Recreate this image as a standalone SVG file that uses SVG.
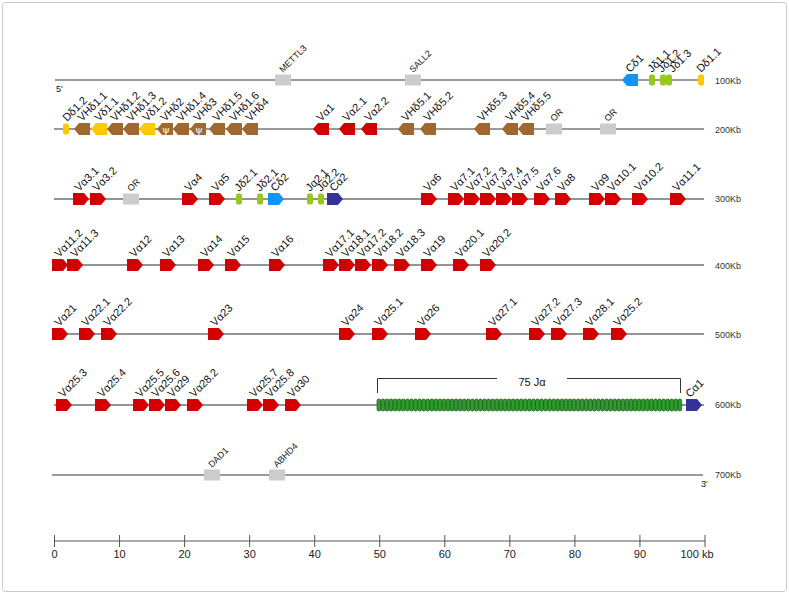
<svg xmlns="http://www.w3.org/2000/svg" xmlns:xlink="http://www.w3.org/1999/xlink" width="789" height="594" viewBox="0 0 789 594">
<style>
text{font-family:"Liberation Sans",Arial,sans-serif;fill:#111}
.lb{font-size:11px}
.sm{font-size:9px}
.kb{font-size:9px;fill:#333}
.ax{font-size:11px;fill:#222}
.red{fill:#d20000}
.brn{fill:#a0672f}
.yel{fill:#ffc800}
.blu{fill:#1294f2}
.grn{fill:#96c81e}
.dbl{fill:#333399}
.gry{fill:#cccccc}
.chrA{stroke:#9a9a9a;stroke-width:2;fill:none}
.chrB{stroke:#2a2a2a;stroke-width:1.2;fill:none}
.ja{fill:#2f9a2f;stroke:#165a16;stroke-width:0.7}
.psi{font-size:10px;fill:#fff;font-family:"DejaVu Serif",serif;text-anchor:middle}
</style>
<defs>
<path id="rp" d="M0,-6 H11 L16,0 L11,6 H0 Z"/>
<path id="lp" d="M16,-6 H5 L0,0 L5,6 H16 Z"/>
<rect id="sj" x="0" y="-5.5" width="6" height="11" rx="2"/>
<rect id="bx" x="0" y="-5.5" width="16" height="11"/>
<rect id="js" x="0" y="-6" width="3.8" height="12" rx="1.8"/>
</defs>
<rect x="2.5" y="2.5" width="784" height="589" rx="3" fill="#fff" stroke="#c8c8c8"/>

<g id="connectors">
<line class="chrA" x1="55" y1="80" x2="704" y2="80"/>
<line class="chrA" x1="54" y1="129" x2="704" y2="129"/>
<line class="chrB" x1="54" y1="199" x2="704" y2="199"/>
<line class="chrB" x1="52" y1="265" x2="704" y2="265"/>
<line class="chrB" x1="52" y1="334" x2="704" y2="334"/>
<line class="chrB" x1="54" y1="405" x2="704" y2="405"/>
<line class="chrA" x1="52" y1="475" x2="703" y2="475"/>
</g>
<g id="rowlabels">
<text class="kb" x="715" y="84">100Kb</text>
<text class="kb" x="715" y="133">200Kb</text>
<text class="kb" x="715" y="202">300Kb</text>
<text class="kb" x="715" y="269">400Kb</text>
<text class="kb" x="715" y="338">500Kb</text>
<text class="kb" x="715" y="408">600Kb</text>
<text class="kb" x="715" y="478">700Kb</text>
<text class="sm" x="56" y="92">5'</text>
<text class="sm" x="701" y="487">3'</text>
</g>

<!-- Row 1 -->
<g id="METTL3"><use href="#bx" x="275" y="80" class="gry"/><text class="sm" transform="translate(283,73) rotate(-45)">METTL3</text></g>
<g id="SALL2"><use href="#bx" x="405" y="80" class="gry"/><text class="sm" transform="translate(413,73) rotate(-45)">SALL2</text></g>
<g id="Cd1"><use href="#lp" x="622" y="80" class="blu"/><text class="lb" transform="translate(630,73) rotate(-45)">Cδ1</text></g>
<g id="Jd1_1"><use href="#sj" x="649" y="80" class="grn"/><text class="lb" transform="translate(652,73) rotate(-45)">Jδ1.1</text></g>
<g id="Jd1_2"><use href="#sj" x="660" y="80" class="grn"/><text class="lb" transform="translate(662,73) rotate(-45)">Jδ1.2</text></g>
<g id="Jd1_3"><use href="#sj" x="666" y="80" class="grn"/><text class="lb" transform="translate(673,73) rotate(-45)">Jδ1.3</text></g>
<g id="Dd1_1"><use href="#sj" x="698" y="80" class="yel"/><text class="lb" transform="translate(701,73) rotate(-45)">Dδ1.1</text></g>

<!-- Row 2 -->
<g id="Dd1_2"><use href="#sj" x="63" y="129" class="yel"/><text class="lb" transform="translate(67,122) rotate(-45)">Dδ1.2</text></g>
<g id="VHd1_1"><use href="#lp" x="74" y="129" class="brn"/><text class="lb" transform="translate(82,122) rotate(-45)">VHδ1.1</text></g>
<g id="Vd1_1"><use href="#lp" x="91" y="129" class="yel"/><text class="lb" transform="translate(99,122) rotate(-45)">Vδ1.1</text></g>
<g id="VHd1_2"><use href="#lp" x="107" y="129" class="brn"/><text class="lb" transform="translate(115,122) rotate(-45)">VHδ1.2</text></g>
<g id="VHd1_3"><use href="#lp" x="123" y="129" class="brn"/><text class="lb" transform="translate(131,122) rotate(-45)">VHδ1.3</text></g>
<g id="Vd1_2"><use href="#lp" x="139" y="129" class="yel"/><text class="lb" transform="translate(147,122) rotate(-45)">Vδ1.2</text></g>
<g id="VHd2"><use href="#lp" x="157" y="129" class="brn"/><text class="psi" x="166" y="133">ψ</text><text class="lb" transform="translate(165,122) rotate(-45)">VHδ2</text></g>
<g id="VHd1_4"><use href="#lp" x="173" y="129" class="brn"/><text class="lb" transform="translate(181,122) rotate(-45)">VHδ1.4</text></g>
<g id="VHd3"><use href="#lp" x="190" y="129" class="brn"/><text class="psi" x="199" y="133">ψ</text><text class="lb" transform="translate(198,122) rotate(-45)">VHδ3</text></g>
<g id="VHd1_5"><use href="#lp" x="209" y="129" class="brn"/><text class="lb" transform="translate(217,122) rotate(-45)">VHδ1.5</text></g>
<g id="VHd1_6"><use href="#lp" x="226" y="129" class="brn"/><text class="lb" transform="translate(234,122) rotate(-45)">VHδ1.6</text></g>
<g id="VHd4"><use href="#lp" x="242" y="129" class="brn"/><text class="lb" transform="translate(250,122) rotate(-45)">VHδ4</text></g>
<g id="Va1"><use href="#lp" x="313" y="129" class="red"/><text class="lb" transform="translate(321,122) rotate(-45)">Vα1</text></g>
<g id="Va2_1"><use href="#lp" x="339" y="129" class="red"/><text class="lb" transform="translate(347,122) rotate(-45)">Vα2.1</text></g>
<g id="Va2_2"><use href="#lp" x="361" y="129" class="red"/><text class="lb" transform="translate(369,122) rotate(-45)">Vα2.2</text></g>
<g id="VHd5_1"><use href="#lp" x="398" y="129" class="brn"/><text class="lb" transform="translate(406,122) rotate(-45)">VHδ5.1</text></g>
<g id="VHd5_2"><use href="#lp" x="420" y="129" class="brn"/><text class="lb" transform="translate(428,122) rotate(-45)">VHδ5.2</text></g>
<g id="VHd5_3"><use href="#lp" x="474" y="129" class="brn"/><text class="lb" transform="translate(482,122) rotate(-45)">VHδ5.3</text></g>
<g id="VHd5_4"><use href="#lp" x="502" y="129" class="brn"/><text class="lb" transform="translate(510,122) rotate(-45)">VHδ5.4</text></g>
<g id="VHd5_5"><use href="#lp" x="518" y="129" class="brn"/><text class="lb" transform="translate(526,122) rotate(-45)">VHδ5.5</text></g>
<g id="OR1"><use href="#bx" x="546" y="129" class="gry"/><text class="sm" transform="translate(554,122) rotate(-45)">OR</text></g>
<g id="OR2"><use href="#bx" x="600" y="129" class="gry"/><text class="sm" transform="translate(608,122) rotate(-45)">OR</text></g>

<!-- Row 3 -->
<g id="Va3_1"><use href="#rp" x="73" y="199" class="red"/><text class="lb" transform="translate(79,192) rotate(-45)">Vα3.1</text></g>
<g id="Va3_2"><use href="#rp" x="90" y="199" class="red"/><text class="lb" transform="translate(97,192) rotate(-45)">Vα3.2</text></g>
<g id="OR3"><use href="#bx" x="123" y="199" class="gry"/><text class="sm" transform="translate(131,192) rotate(-45)">OR</text></g>
<g id="Va4"><use href="#rp" x="182" y="199" class="red"/><text class="lb" transform="translate(189,192) rotate(-45)">Vα4</text></g>
<g id="Va5"><use href="#rp" x="209" y="199" class="red"/><text class="lb" transform="translate(216,192) rotate(-45)">Vα5</text></g>
<g id="Jd2_1a"><use href="#sj" x="236" y="199" class="grn"/><text class="lb" transform="translate(239,192) rotate(-45)">Jδ2.1</text></g>
<g id="Jd2_1b"><use href="#sj" x="257" y="199" class="grn"/><text class="lb" transform="translate(260,192) rotate(-45)">Jδ2.1</text></g>
<g id="Cd2"><use href="#rp" x="268" y="199" class="blu"/><text class="lb" transform="translate(275,192) rotate(-45)">Cδ2</text></g>
<g id="Ja2_1"><use href="#sj" x="307" y="199" class="grn"/><text class="lb" transform="translate(310,192) rotate(-45)">Jα2.1</text></g>
<g id="Ja2_2"><use href="#sj" x="318" y="199" class="grn"/><text class="lb" transform="translate(321,192) rotate(-45)">Jα2.2</text></g>
<g id="Ca2"><use href="#rp" x="327" y="199" class="dbl"/><text class="lb" transform="translate(334,192) rotate(-45)">Cα2</text></g>
<g id="Va6"><use href="#rp" x="421" y="199" class="red"/><text class="lb" transform="translate(428,192) rotate(-45)">Vα6</text></g>
<g id="Va7_1"><use href="#rp" x="448" y="199" class="red"/><text class="lb" transform="translate(455,192) rotate(-45)">Vα7.1</text></g>
<g id="Va7_2"><use href="#rp" x="464" y="199" class="red"/><text class="lb" transform="translate(471,192) rotate(-45)">Vα7.2</text></g>
<g id="Va7_3"><use href="#rp" x="480" y="199" class="red"/><text class="lb" transform="translate(487,192) rotate(-45)">Vα7.3</text></g>
<g id="Va7_4"><use href="#rp" x="496" y="199" class="red"/><text class="lb" transform="translate(503,192) rotate(-45)">Vα7.4</text></g>
<g id="Va7_5"><use href="#rp" x="512" y="199" class="red"/><text class="lb" transform="translate(519,192) rotate(-45)">Vα7.5</text></g>
<g id="Va7_6"><use href="#rp" x="534" y="199" class="red"/><text class="lb" transform="translate(541,192) rotate(-45)">Vα7.6</text></g>
<g id="Va8"><use href="#rp" x="555" y="199" class="red"/><text class="lb" transform="translate(562,192) rotate(-45)">Vα8</text></g>
<g id="Va9"><use href="#rp" x="589" y="199" class="red"/><text class="lb" transform="translate(596,192) rotate(-45)">Vα9</text></g>
<g id="Va10_1"><use href="#rp" x="605" y="199" class="red"/><text class="lb" transform="translate(612,192) rotate(-45)">Vα10.1</text></g>
<g id="Va10_2"><use href="#rp" x="632" y="199" class="red"/><text class="lb" transform="translate(639,192) rotate(-45)">Vα10.2</text></g>
<g id="Va11_1"><use href="#rp" x="670" y="199" class="red"/><text class="lb" transform="translate(677,192) rotate(-45)">Vα11.1</text></g>

<!-- Row 4 -->
<g id="Va11_2"><use href="#rp" x="52" y="265" class="red"/><text class="lb" transform="translate(59,258) rotate(-45)">Vα11.2</text></g>
<g id="Va11_3"><use href="#rp" x="67" y="265" class="red"/><text class="lb" transform="translate(75,258) rotate(-45)">Vα11.3</text></g>
<g id="Va12"><use href="#rp" x="127" y="265" class="red"/><text class="lb" transform="translate(134,258) rotate(-45)">Vα12</text></g>
<g id="Va13"><use href="#rp" x="160" y="265" class="red"/><text class="lb" transform="translate(167,258) rotate(-45)">Vα13</text></g>
<g id="Va14"><use href="#rp" x="198" y="265" class="red"/><text class="lb" transform="translate(205,258) rotate(-45)">Vα14</text></g>
<g id="Va15"><use href="#rp" x="225" y="265" class="red"/><text class="lb" transform="translate(232,258) rotate(-45)">Vα15</text></g>
<g id="Va16"><use href="#rp" x="269" y="265" class="red"/><text class="lb" transform="translate(276,258) rotate(-45)">Vα16</text></g>
<g id="Va17_1"><use href="#rp" x="323" y="265" class="red"/><text class="lb" transform="translate(330,258) rotate(-45)">Vα17.1</text></g>
<g id="Va18_1"><use href="#rp" x="339" y="265" class="red"/><text class="lb" transform="translate(346,258) rotate(-45)">Vα18.1</text></g>
<g id="Va17_2"><use href="#rp" x="355" y="265" class="red"/><text class="lb" transform="translate(362,258) rotate(-45)">Vα17.2</text></g>
<g id="Va18_2"><use href="#rp" x="372" y="265" class="red"/><text class="lb" transform="translate(379,258) rotate(-45)">Vα18.2</text></g>
<g id="Va18_3"><use href="#rp" x="394" y="265" class="red"/><text class="lb" transform="translate(401,258) rotate(-45)">Vα18.3</text></g>
<g id="Va19"><use href="#rp" x="421" y="265" class="red"/><text class="lb" transform="translate(428,258) rotate(-45)">Vα19</text></g>
<g id="Va20_1"><use href="#rp" x="453" y="265" class="red"/><text class="lb" transform="translate(460,258) rotate(-45)">Vα20.1</text></g>
<g id="Va20_2"><use href="#rp" x="480" y="265" class="red"/><text class="lb" transform="translate(487,258) rotate(-45)">Vα20.2</text></g>

<!-- Row 5 -->
<g id="Va21"><use href="#rp" x="52" y="334" class="red"/><text class="lb" transform="translate(59,327) rotate(-45)">Vα21</text></g>
<g id="Va22_1"><use href="#rp" x="79" y="334" class="red"/><text class="lb" transform="translate(86,327) rotate(-45)">Vα22.1</text></g>
<g id="Va22_2"><use href="#rp" x="101" y="334" class="red"/><text class="lb" transform="translate(108,327) rotate(-45)">Vα22.2</text></g>
<g id="Va23"><use href="#rp" x="208" y="334" class="red"/><text class="lb" transform="translate(215,327) rotate(-45)">Vα23</text></g>
<g id="Va24"><use href="#rp" x="339" y="334" class="red"/><text class="lb" transform="translate(346,327) rotate(-45)">Vα24</text></g>
<g id="Va25_1"><use href="#rp" x="372" y="334" class="red"/><text class="lb" transform="translate(379,327) rotate(-45)">Vα25.1</text></g>
<g id="Va26"><use href="#rp" x="415" y="334" class="red"/><text class="lb" transform="translate(422,327) rotate(-45)">Vα26</text></g>
<g id="Va27_1"><use href="#rp" x="486" y="334" class="red"/><text class="lb" transform="translate(493,327) rotate(-45)">Vα27.1</text></g>
<g id="Va27_2"><use href="#rp" x="529" y="334" class="red"/><text class="lb" transform="translate(536,327) rotate(-45)">Vα27.2</text></g>
<g id="Va27_3"><use href="#rp" x="551" y="334" class="red"/><text class="lb" transform="translate(558,327) rotate(-45)">Vα27.3</text></g>
<g id="Va28_1"><use href="#rp" x="583" y="334" class="red"/><text class="lb" transform="translate(590,327) rotate(-45)">Vα28.1</text></g>
<g id="Va25_2"><use href="#rp" x="611" y="334" class="red"/><text class="lb" transform="translate(618,327) rotate(-45)">Vα25.2</text></g>

<!-- Row 6 -->
<g id="Va25_3"><use href="#rp" x="56" y="405" class="red"/><text class="lb" transform="translate(63,398) rotate(-45)">Vα25.3</text></g>
<g id="Va25_4"><use href="#rp" x="95" y="405" class="red"/><text class="lb" transform="translate(102,398) rotate(-45)">Vα25.4</text></g>
<g id="Va25_5"><use href="#rp" x="133" y="405" class="red"/><text class="lb" transform="translate(140,398) rotate(-45)">Vα25.5</text></g>
<g id="Va25_6"><use href="#rp" x="149" y="405" class="red"/><text class="lb" transform="translate(156,398) rotate(-45)">Vα25.6</text></g>
<g id="Va29"><use href="#rp" x="165" y="405" class="red"/><text class="lb" transform="translate(172,398) rotate(-45)">Vα29</text></g>
<g id="Va28_2"><use href="#rp" x="187" y="405" class="red"/><text class="lb" transform="translate(194,398) rotate(-45)">Vα28.2</text></g>
<g id="Va25_7"><use href="#rp" x="247" y="405" class="red"/><text class="lb" transform="translate(254,398) rotate(-45)">Vα25.7</text></g>
<g id="Va25_8"><use href="#rp" x="263" y="405" class="red"/><text class="lb" transform="translate(270,398) rotate(-45)">Vα25.8</text></g>
<g id="Va30"><use href="#rp" x="285" y="405" class="red"/><text class="lb" transform="translate(292,398) rotate(-45)">Vα30</text></g>
<g id="Ja_cluster">
<path d="M377.5,393 V378.5 H497 M567,378.5 H680.5 V393" fill="none" stroke="#333" stroke-width="1"/>
<text class="lb" x="532" y="386" text-anchor="middle">75 Jα</text>
<g class="ja">
<use href="#js" x="377" y="405"/><use href="#js" x="381.07" y="405"/><use href="#js" x="385.13" y="405"/><use href="#js" x="389.2" y="405"/><use href="#js" x="393.27" y="405"/>
<use href="#js" x="397.33" y="405"/><use href="#js" x="401.4" y="405"/><use href="#js" x="405.47" y="405"/><use href="#js" x="409.53" y="405"/><use href="#js" x="413.6" y="405"/>
<use href="#js" x="417.67" y="405"/><use href="#js" x="421.73" y="405"/><use href="#js" x="425.8" y="405"/><use href="#js" x="429.87" y="405"/><use href="#js" x="433.93" y="405"/>
<use href="#js" x="438" y="405"/><use href="#js" x="442.07" y="405"/><use href="#js" x="446.13" y="405"/><use href="#js" x="450.2" y="405"/><use href="#js" x="454.27" y="405"/>
<use href="#js" x="458.33" y="405"/><use href="#js" x="462.4" y="405"/><use href="#js" x="466.47" y="405"/><use href="#js" x="470.53" y="405"/><use href="#js" x="474.6" y="405"/>
<use href="#js" x="478.67" y="405"/><use href="#js" x="482.73" y="405"/><use href="#js" x="486.8" y="405"/><use href="#js" x="490.87" y="405"/><use href="#js" x="494.93" y="405"/>
<use href="#js" x="499" y="405"/><use href="#js" x="503.07" y="405"/><use href="#js" x="507.13" y="405"/><use href="#js" x="511.2" y="405"/><use href="#js" x="515.27" y="405"/>
<use href="#js" x="519.33" y="405"/><use href="#js" x="523.4" y="405"/><use href="#js" x="527.47" y="405"/><use href="#js" x="531.53" y="405"/><use href="#js" x="535.6" y="405"/>
<use href="#js" x="539.67" y="405"/><use href="#js" x="543.73" y="405"/><use href="#js" x="547.8" y="405"/><use href="#js" x="551.87" y="405"/><use href="#js" x="555.93" y="405"/>
<use href="#js" x="560" y="405"/><use href="#js" x="564.07" y="405"/><use href="#js" x="568.13" y="405"/><use href="#js" x="572.2" y="405"/><use href="#js" x="576.27" y="405"/>
<use href="#js" x="580.33" y="405"/><use href="#js" x="584.4" y="405"/><use href="#js" x="588.47" y="405"/><use href="#js" x="592.53" y="405"/><use href="#js" x="596.6" y="405"/>
<use href="#js" x="600.67" y="405"/><use href="#js" x="604.73" y="405"/><use href="#js" x="608.8" y="405"/><use href="#js" x="612.87" y="405"/><use href="#js" x="616.93" y="405"/>
<use href="#js" x="621" y="405"/><use href="#js" x="625.07" y="405"/><use href="#js" x="629.13" y="405"/><use href="#js" x="633.2" y="405"/><use href="#js" x="637.27" y="405"/>
<use href="#js" x="641.33" y="405"/><use href="#js" x="645.4" y="405"/><use href="#js" x="649.47" y="405"/><use href="#js" x="653.53" y="405"/><use href="#js" x="657.6" y="405"/>
<use href="#js" x="661.67" y="405"/><use href="#js" x="665.73" y="405"/><use href="#js" x="669.8" y="405"/><use href="#js" x="673.87" y="405"/><use href="#js" x="677.93" y="405"/>
</g>
</g>
<g id="Ca1"><use href="#rp" x="686" y="405" class="dbl"/><text class="lb" transform="translate(690,398) rotate(-45)">Cα1</text></g>

<!-- Row 7 -->
<g id="DAD1"><use href="#bx" x="204" y="475" class="gry"/><text class="sm" transform="translate(212,468) rotate(-45)">DAD1</text></g>
<g id="ABHD4"><use href="#bx" x="269" y="475" class="gry"/><text class="sm" transform="translate(277,468) rotate(-45)">ABHD4</text></g>

<!-- Axis -->
<g id="axis" stroke="#555" stroke-width="1">
<line x1="54.5" y1="541" x2="705" y2="541"/>
<line x1="54.5" y1="535" x2="54.5" y2="547"/>
<line x1="119.55" y1="535" x2="119.55" y2="547"/>
<line x1="184.6" y1="535" x2="184.6" y2="547"/>
<line x1="249.65" y1="535" x2="249.65" y2="547"/>
<line x1="314.7" y1="535" x2="314.7" y2="547"/>
<line x1="379.75" y1="535" x2="379.75" y2="547"/>
<line x1="444.8" y1="535" x2="444.8" y2="547"/>
<line x1="509.85" y1="535" x2="509.85" y2="547"/>
<line x1="574.9" y1="535" x2="574.9" y2="547"/>
<line x1="639.95" y1="535" x2="639.95" y2="547"/>
<line x1="705" y1="535" x2="705" y2="547"/>
</g>
<g id="axislabels" class="ax" text-anchor="middle">
<text class="ax" x="54.5" y="558" text-anchor="middle">0</text>
<text class="ax" x="119.55" y="558" text-anchor="middle">10</text>
<text class="ax" x="184.6" y="558" text-anchor="middle">20</text>
<text class="ax" x="249.65" y="558" text-anchor="middle">30</text>
<text class="ax" x="314.7" y="558" text-anchor="middle">40</text>
<text class="ax" x="379.75" y="558" text-anchor="middle">50</text>
<text class="ax" x="444.8" y="558" text-anchor="middle">60</text>
<text class="ax" x="509.85" y="558" text-anchor="middle">70</text>
<text class="ax" x="574.9" y="558" text-anchor="middle">80</text>
<text class="ax" x="639.95" y="558" text-anchor="middle">90</text>
<text class="ax" x="697" y="558">100 kb</text>
</g>
</svg>
